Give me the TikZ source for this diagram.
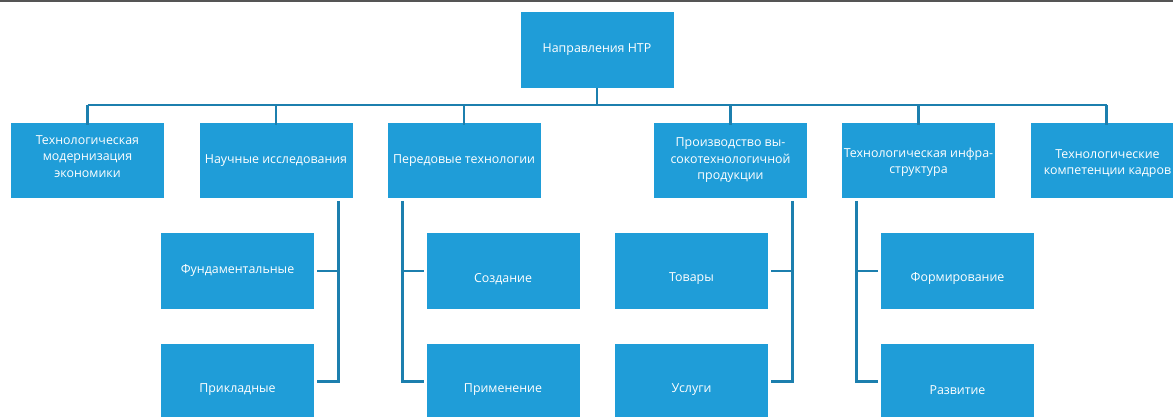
\documentclass[tikz,border=0pt]{standalone}
\usepackage{fontspec}
\setmainfont{Open Sans}
\definecolor{boxblue}{HTML}{1F9DD8}
\definecolor{lineblue}{HTML}{1C7FAE}
\definecolor{topgray}{HTML}{555555}
\begin{document}
\begin{tikzpicture}[x=1pt,y=-1pt,
  boxfont/.style={text=white,align=center,font=\fontsize{12.4}{16.5}\selectfont},
  box/.style={fill=boxblue,draw=none,minimum width=153pt,minimum height=75.5pt,
    inner sep=0pt,boxfont},
  lowtext/.style={label={[boxfont,yshift=-8pt]center:#1}},
  shifted/.style 2 args={label={[boxfont,yshift=#1]center:#2}},
  conn/.style={draw=lineblue,line width=2.6pt}]
\useasboundingbox (0,0) rectangle (1173,417);
\begin{scope}
\clip (0,0) rectangle (1173,417);
\fill[topgray] (0,0) rectangle (1173,2.2);
% root
\node[box] (root) at (597,50) {Направления НТР};
% level 1
\node[box,shifted={4pt}{Технологическая\\модернизация\\экономики}] (a) at (87.5,160.5) {};
\node[box] (b) at (276,160.5) {Научные исследования};
\node[box] (c) at (464,160.5) {Передовые технологии};
\node[box] (d) at (730.5,160.5) {Производство вы-\\сокотехнологичной\\продукции};
\node[box,shifted={-2pt}{Технологическая инфра-\\структура}] (e) at (918.5,160.5) {};
\node[box,shifted={-3pt}{Технологические\\компетенции кадров}] (f) at (1107.5,160.5) {};
% level 2
\node[box] (b1) at (237.5,270.8) {Фундаментальные};
\node[box,minimum height=92pt] (b2) at (237.5,390) {Прикладные};
\node[box,lowtext=Создание] (c1) at (503,270.8) {};
\node[box,minimum height=92pt] (c2) at (503,390) {Применение};
\node[box,lowtext=Товары] (d1) at (691.5,270.8) {};
\node[box,minimum height=92pt] (d2) at (691.5,390) {Услуги};
\node[box,lowtext=Формирование] (e1) at (957.5,270.8) {};
\node[box,minimum height=92pt] (e2) at (957.5,390) {Развитие};
% bus
\coordinate (bus) at (597,105);
\draw[conn] (root.south) -- (bus);
\draw[conn] (a.north |- bus) -- ([xshift=-1pt]f.north |- bus);
\foreach \n in {a,b,c,d,e}{\draw[conn] (\n.north |- bus) -- ([yshift=-2pt]\n.north);}
\draw[conn] ([xshift=-1pt]f.north |- bus) -- ([xshift=-1pt,yshift=-2pt]f.north);
% branches
\coordinate (bx) at (338.5,0);
\coordinate (cx) at (402.5,0);
\coordinate (dx) at (792.5,0);
\coordinate (ex) at (856.5,0);
\draw[conn] (bx |- b.south) ++(0,2.5) |- ([xshift=2.5pt]b1.east) ;
\draw[conn] (bx |- b1.east) |- ([xshift=2.5pt]b2.east |- 0,381.6);
\draw[conn] (cx |- c.south) ++(0,2.5) |- ([xshift=-2.5pt]c1.west);
\draw[conn] (cx |- c1.west) |- ([xshift=-2.5pt]c2.west |- 0,381.6);
\draw[conn] (dx |- d.south) ++(0,2.5) |- ([xshift=2.5pt]d1.east);
\draw[conn] (dx |- d1.east) |- ([xshift=2.5pt]d2.east |- 0,381.6);
\draw[conn] (ex |- e.south) ++(0,2.5) |- ([xshift=-2.5pt]e1.west);
\draw[conn] (ex |- e1.west) |- ([xshift=-2.5pt]e2.west |- 0,381.6);
\end{scope}
\end{tikzpicture}
\end{document}
